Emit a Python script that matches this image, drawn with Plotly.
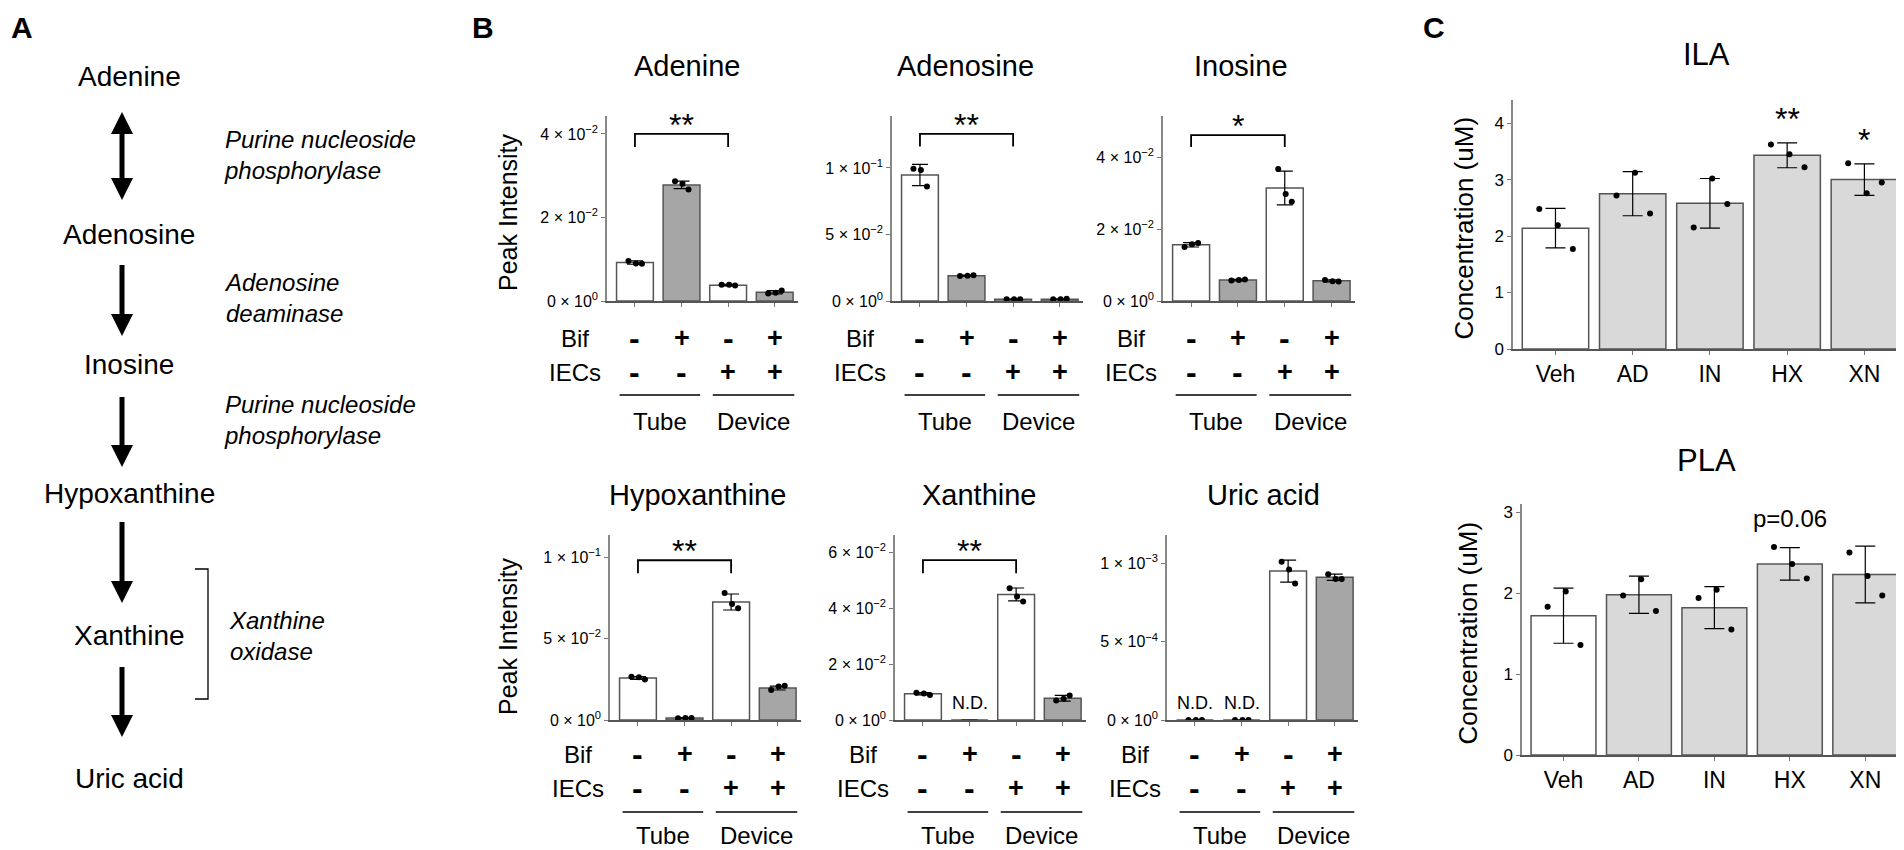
import plotly.graph_objects as go

W, H = 1904, 850
OFF = 8                      # page margin of the browser body
FW, FH = W - OFF, H - OFF
FONT = "Liberation Sans"


def px(x):
    return (x - OFF) / FW


def py(y):
    return 1 - (y - OFF) / FH


def sci(m, e):
    return "%s \u00d7 10<sup>%s</sup>" % (m, str(e).replace("-", "\u2212"))


# ---------------- data : panel A (pathway) ----------------
compounds = ["Adenine", "Adenosine", "Inosine", "Hypoxanthine", "Xanthine", "Uric acid"]
enzymes = ["Purine nucleoside<br>phosphorylase", "Adenosine<br>deaminase",
           "Purine nucleoside<br>phosphorylase", "Xanthine<br>oxidase"]

# ---------------- data : panel B ----------------
bif = ["-", "+", "-", "+"]
iecs = ["-", "-", "+", "+"]
setting = ["Tube", "Device"]

adenine_mean = [0.0092, 0.0278, 0.0038, 0.0021]
adenine_sd = [0.0004, 0.0009, 0.0002, 0.0004]
adenine_pts = [[0.0096, 0.0090, 0.0089], [0.0287, 0.0281, 0.0267],
               [0.0039, 0.0039, 0.0037], [0.0018, 0.0020, 0.0025]]

adenosine_mean = [0.0947, 0.0190, 0.0013, 0.0014]
adenosine_sd = [0.0080, 0.0004, 0.0002, 0.0002]
adenosine_pts = [[0.0993, 0.0985, 0.0860], [0.0188, 0.0190, 0.0193],
                 [0.0013, 0.0014, 0.0013], [0.0013, 0.0014, 0.0016]]

inosine_mean = [0.0156, 0.0058, 0.0314, 0.0056]
inosine_sd = [0.0006, 0.0002, 0.0047, 0.0003]
inosine_pts = [[0.0150, 0.0158, 0.0161], [0.0057, 0.0058, 0.0060],
               [0.0367, 0.0297, 0.0276], [0.0058, 0.0055, 0.0054]]

hypox_mean = [0.0258, 0.0012, 0.0724, 0.0196]
hypox_sd = [0.0009, 0.0002, 0.0049, 0.0012]
hypox_pts = [[0.0266, 0.0262, 0.0248], [0.0011, 0.0012, 0.0013],
             [0.0779, 0.0712, 0.0686], [0.0184, 0.0206, 0.0210]]

xanth_mean = [0.0094, 0.0, 0.0450, 0.0078]
xanth_sd = [0.0004, None, 0.0023, 0.0010]
xanth_pts = [[0.0098, 0.0095, 0.0090], [],
             [0.0472, 0.0443, 0.0425], [0.0070, 0.0076, 0.0088]]

uric_mean = [0.0, 0.0, 0.00095, 0.00091]
uric_sd = [None, None, 0.00007, 0.00002]
uric_pts = [[0.0, 0.0, 0.0], [0.0, 0.0, 0.0],
            [0.00101, 0.00096, 0.00087], [0.00093, 0.00090, 0.00090]]

adenine_ticks = [0, 0.02, 0.04]
adenine_ticktext = [sci(0, 0), sci(2, -2), sci(4, -2)]
adenosine_ticks = [0, 0.05, 0.1]
adenosine_ticktext = [sci(0, 0), sci(5, -2), sci(1, -1)]
inosine_ticks = [0, 0.02, 0.04]
inosine_ticktext = [sci(0, 0), sci(2, -2), sci(4, -2)]
hypox_ticks = [0, 0.05, 0.1]
hypox_ticktext = [sci(0, 0), sci(5, -2), sci(1, -1)]
xanth_ticks = [0, 0.02, 0.04, 0.06]
xanth_ticktext = [sci(0, 0), sci(2, -2), sci(4, -2), sci(6, -2)]
uric_ticks = [0, 0.0005, 0.001]
uric_ticktext = [sci(0, 0), sci(5, -4), sci(1, -3)]

# significance: (label, bracket top, leg bottom) between bar 0 and bar 2
adenine_sig = ("**", 0.0400, 0.0369)
adenosine_sig = ("**", 0.1255, 0.1160)
inosine_sig = ("*", 0.0461, 0.0428)
hypox_sig = ("**", 0.0980, 0.0900)
xanth_sig = ("**", 0.0573, 0.0526)

xanth_nd = [1]
uric_nd = [0, 1]

# ---------------- data : panel C ----------------
c_groups = ["Veh", "AD", "IN", "HX", "XN"]
ila_mean = [2.14, 2.75, 2.58, 3.43, 3.00]
ila_sd = [0.35, 0.39, 0.44, 0.22, 0.28]
ila_pts = [[2.48, 2.19, 1.77], [2.72, 3.12, 2.40], [2.15, 3.02, 2.57],
           [3.62, 3.45, 3.22], [3.29, 2.76, 2.95]]
ila_ticks = [0, 1, 2, 3, 4]
ila_marks = [(3, "**"), (4, "*")]

pla_mean = [1.72, 1.98, 1.82, 2.36, 2.23]
pla_sd = [0.34, 0.23, 0.26, 0.20, 0.35]
pla_pts = [[1.83, 2.02, 1.36], [1.97, 2.17, 1.78], [1.94, 2.04, 1.55],
           [2.57, 2.36, 2.18], [2.50, 2.21, 1.97]]
pla_ticks = [0, 1, 2, 3]
pla_marks = [(3, "p=0.06")]

JITTER = [-0.14, 0.02, 0.15]

fig = go.Figure()
ann = []
shapes = []


def label(x, y, text, size, xref="paper", yref="paper", **kw):
    d = dict(x=x, y=y, xref=xref, yref=yref, text=text, showarrow=False,
             xanchor="center", yanchor="middle", font=dict(family=FONT, size=size, color="black"))
    d.update(kw)
    ann.append(d)


# ---------------- panel B ----------------
b_panels = [
    ("Adenine", adenine_mean, adenine_sd, adenine_pts, adenine_ticks, adenine_ticktext, 0.0443, adenine_sig, []),
    ("Adenosine", adenosine_mean, adenosine_sd, adenosine_pts, adenosine_ticks, adenosine_ticktext, 0.139, adenosine_sig, []),
    ("Inosine", inosine_mean, inosine_sd, inosine_pts, inosine_ticks, inosine_ticktext, 0.0514, inosine_sig, []),
    ("Hypoxanthine", hypox_mean, hypox_sd, hypox_pts, hypox_ticks, hypox_ticktext, 0.1135, hypox_sig, []),
    ("Xanthine", xanth_mean, xanth_sd, xanth_pts, xanth_ticks, xanth_ticktext, 0.0663, xanth_sig, xanth_nd),
    ("Uric acid", uric_mean, uric_sd, uric_pts, uric_ticks, uric_ticktext, 0.00118, None, uric_nd),
]
# pixel boxes: x0, x1, ytop, ybottom, title x
b_geom = [
    (607, 798, 116, 301, 687), (892, 1083, 116, 301, 965), (1163, 1355, 116, 301, 1241),
    (610, 801, 535, 720, 697), (895, 1086, 535, 720, 980), (1167, 1358, 535, 720, 1263),
]
# title y, Bif row, IECs row, underline, Tube/Device row
row_y = {116: (66, 338, 372, 395, 421), 535: (495, 754, 788, 812, 835)}
XR = (-0.6, 3.5)

bar_cols = ["white", "#a6a6a6", "white", "#a6a6a6"]
layout_axes = {}

for k, (title, mean, sd, pts, tv, tt, ymax, sig, nd) in enumerate(b_panels):
    i = k + 1
    xr, yr = ("x" if i == 1 else "x%d" % i), ("y" if i == 1 else "y%d" % i)
    x0, x1, yt, yb, tx = b_geom[k]
    ty, yb_bif, yb_iec, yb_line, yb_set = row_y[yt]
    idx = list(range(len(mean)))
    fig.add_trace(go.Bar(x=idx, y=mean, width=0.79, xaxis=xr, yaxis=yr,
                         marker=dict(color=bar_cols, line=dict(color="#555555", width=1.5)),
                         error_y=dict(type="data", array=sd, color="black", thickness=1.2, width=8)))
    dx, dy = [], []
    for j, p in enumerate(pts):
        for n, v in enumerate(p):
            dx.append(j + JITTER[n])
            dy.append(v)
    fig.add_trace(go.Scatter(x=dx, y=dy, mode="markers", xaxis=xr, yaxis=yr,
                             marker=dict(color="black", size=6)))
    layout_axes["xaxis" + ("" if i == 1 else str(i))] = dict(
        domain=[px(x0), px(x1)], range=list(XR), anchor=yr, tickvals=idx,
        ticktext=[""] * 4, ticks="outside", ticklen=4, tickcolor="#777777", automargin=False,
        showline=True, linecolor="#555555", linewidth=1.5, showgrid=False, zeroline=False, fixedrange=True)
    layout_axes["yaxis" + ("" if i == 1 else str(i))] = dict(
        domain=[py(yb), py(yt)], range=[0, ymax], anchor=xr, tickvals=tv, ticktext=tt,
        ticks="outside", ticklen=4, tickcolor="#777777", showline=True, linecolor="#888888",
        linewidth=1.5, showgrid=False, zeroline=False, fixedrange=True, automargin=False,
        tickfont=dict(family=FONT, size=16, color="black"))

    label(px(tx), py(ty), title, 29)
    if sig:
        lab, top, leg = sig
        shapes.append(dict(type="path", xref=xr, yref=yr,
                           path="M 0 %g L 0 %g L 2 %g L 2 %g" % (leg, top, top, leg),
                           line=dict(color="black", width=1.8)))
        label(1, top, lab, 32, xref=xr, yref=yr, yshift=9)
    for j in nd:
        label(j, 0, "N.D.", 18, xref=xr, yref=yr, yanchor="bottom", yshift=5)
    # condition rows: row titles sit left of the first bar, outside the axis range
    bar0 = x0 + (0 - XR[0]) / (XR[1] - XR[0]) * (x1 - x0)
    label(px(bar0 - 60), py(yb_bif), "Bif", 24)
    label(px(bar0 - 60), py(yb_iec), "IECs", 24)
    for j in idx:
        for sym, yrow in ((bif[j], yb_bif), (iecs[j], yb_iec)):
            label(j, py(yrow), "<b>%s</b>" % sym, 32 if sym == "-" else 27, xref=xr)
    for s, (a, b) in enumerate([(-0.33, 1.40), (1.67, 3.42)]):
        shapes.append(dict(type="line", xref=xr, yref="paper", x0=a, x1=b, y0=py(yb_line), y1=py(yb_line),
                           line=dict(color="black", width=1.5)))
        label((a + b) / 2, py(yb_set), setting[s], 24, xref=xr)

for yc in (212, 636):
    label(px(508), py(yc), "Peak Intensity", 25, textangle=-90)

# ---------------- panel C ----------------
c_panels = [
    ("ILA", ila_mean, ila_sd, ila_pts, ila_ticks, 4.41, ila_marks, (1513, 1903, 100, 349), 55, 1463),
    ("PLA", pla_mean, pla_sd, pla_pts, pla_ticks, 3.10, pla_marks, (1522, 1903, 504, 755), 460, 1467),
]
c_cols = ["white", "#d9d9d9", "#d9d9d9", "#d9d9d9", "#d9d9d9"]
for k, (title, mean, sd, pts, tv, ymax, marks, g, ty, ytx) in enumerate(c_panels):
    i = 7 + k
    xr, yr = "x%d" % i, "y%d" % i
    x0, x1, yt, yb = g
    idx = list(range(len(mean)))
    fig.add_trace(go.Bar(x=idx, y=mean, width=0.86, xaxis=xr, yaxis=yr,
                         marker=dict(color=c_cols, line=dict(color="#555555", width=1.5)),
                         error_y=dict(type="data", array=sd, color="black", thickness=1.2, width=10)))
    dx, dy = [], []
    for j, p in enumerate(pts):
        for n, v in enumerate(p):
            dx.append(j + JITTER[n] * 1.5)
            dy.append(v)
    fig.add_trace(go.Scatter(x=dx, y=dy, mode="markers", xaxis=xr, yaxis=yr,
                             marker=dict(color="black", size=6)))
    layout_axes["xaxis%d" % i] = dict(
        domain=[px(x0), px(x1)], range=[-0.55, 4.5], anchor=yr, tickvals=idx, ticktext=c_groups,
        ticks="outside", ticklen=4, tickcolor="#777777", ticklabelstandoff=0, automargin=False,
        showline=True, linecolor="#555555", linewidth=1.5, showgrid=False, zeroline=False, fixedrange=True,
        tickfont=dict(family=FONT, size=23, color="black"))
    layout_axes["yaxis%d" % i] = dict(
        domain=[py(yb), py(yt)], range=[0, ymax], anchor=xr, tickvals=tv, automargin=False,
        ticks="outside", ticklen=4, tickcolor="#777777", showline=True, linecolor="#888888",
        linewidth=1.5, showgrid=False, zeroline=False, fixedrange=True,
        tickfont=dict(family=FONT, size=17, color="black"))
    label(px(1706), py(ty), title, 31)
    label(px(ytx), py((yt + yb) / 2 + 4), "Concentration (uM)", 26, textangle=-90)
    for j, lab in marks:
        star = lab.startswith("*")
        label(j, mean[j] + sd[j], lab, 32 if star else 24, xref=xr, yref=yr,
              yanchor="bottom", yshift=4 if star else 14)

# ---------------- panel A ----------------
comp_y = [76, 234, 364, 493, 635, 778]
for c, yc in zip(compounds, comp_y):
    label(px(129), py(yc), c, 28)
enz_pos = [(222, 155), (222, 298), (222, 420), (227, 636)]
for e, (ex, ey) in zip(enzymes, enz_pos):
    label(px(ex), py(ey), "<i>%s</i>" % e, 24, xanchor="left", align="left")

AX = 122


def head(ytip, down):
    yb = ytip - 22 if down else ytip + 22
    return dict(type="path", xref="paper", yref="paper", fillcolor="black", line=dict(width=0),
                path="M %g %g L %g %g L %g %g Z" % (px(AX - 11), py(yb), px(AX + 11), py(yb), px(AX), py(ytip)))


arrows = [(112, 200, True), (265, 336, False), (397, 467, False), (522, 603, False), (667, 737, False)]
for ya, yb2, both in arrows:
    s0 = ya + 20 if both else ya
    shapes.append(dict(type="line", xref="paper", yref="paper", x0=px(AX), x1=px(AX),
                       y0=py(s0), y1=py(yb2 - 20), line=dict(color="black", width=5)))
    shapes.append(head(yb2, True))
    if both:
        shapes.append(head(ya, False))

shapes.append(dict(type="path", xref="paper", yref="paper", line=dict(color="black", width=1.3),
                   path="M %g %g L %g %g L %g %g L %g %g" % (px(195), py(569), px(208), py(569),
                                                             px(208), py(699), px(195), py(699))))

for lab, lx, ly in [("A", 10, 28), ("B", 483, 28), ("C", 1434, 28)]:
    label(px(lx), py(ly), "<b>%s</b>" % lab, 30, borderpad=0,
          xanchor="left" if lab == "A" else "center")

fig.update_layout(template="none", width=FW, height=FH, margin=dict(l=0, r=0, t=0, b=0, pad=0),
                  showlegend=False, paper_bgcolor="white", plot_bgcolor="white",
                  annotations=ann, shapes=shapes,
                  font=dict(family=FONT, color="black"), **layout_axes)

fig.write_html("out.html")
